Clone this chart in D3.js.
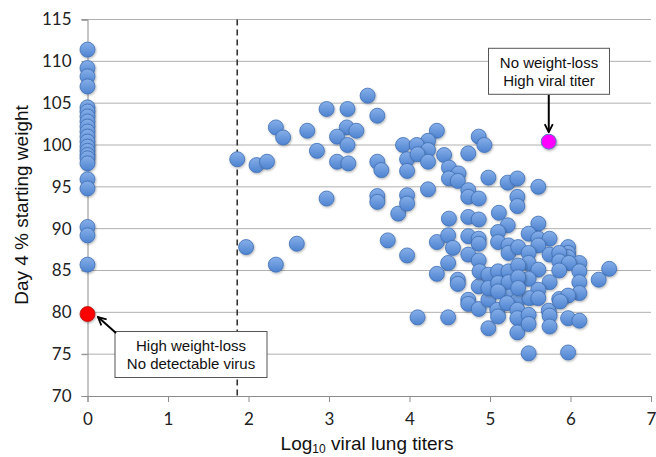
<!DOCTYPE html>
<html>
<head>
<meta charset="utf-8">
<script src="https://cdn.jsdelivr.net/npm/d3@7"></script>
<style>
  body { margin: 0; background: #fff; }
  .axis path, .axis line { stroke: #8c8c8c; }
  .axis text { font-family: Lato, "Open Sans", sans-serif; font-size: 17px; fill: #222; }
</style>
</head>
<body>
<div id="chart-area"></div>
<script>
// weights of mice with no detectable virus (titer 0)
var zeroTiterWeights = [111.4, 109.2, 108.2, 107.0, 104.5, 104.0, 103.4, 102.8, 102.2, 101.6,
  101.0, 100.4, 99.8, 99.3, 98.8, 98.4, 97.8, 95.9, 94.8, 90.2, 89.2, 85.7]

// log10 titers and matching weights for the infected mice
var titers = [1.86, 2.10, 2.23, 2.34, 2.43, 2.73, 2.85, 2.97, 3.23, 3.48, 3.60, 3.22, 3.34, 3.10, 3.23,
  3.10, 3.24, 3.60, 3.65, 2.97, 3.60, 3.60, 3.86, 1.97, 2.60, 3.73, 2.34, 3.97, 3.92, 3.97, 3.97, 3.97, 3.97,
  4.34, 4.23, 4.09, 4.23, 4.10, 4.23, 4.43, 4.49, 4.61, 4.49, 4.60, 4.86, 4.93, 4.73, 4.98, 4.23, 4.73,
  4.73, 4.86, 4.49, 4.73, 4.86, 4.34, 4.48, 4.73, 4.86, 4.86, 4.54, 4.73, 4.86, 4.48, 4.34, 4.60, 4.60,
  4.86, 4.87, 4.98, 4.73, 4.73, 4.86, 4.98, 4.10, 4.48, 4.98, 4.98,
  5.22, 5.34, 5.60, 5.34, 5.34, 5.11, 5.22, 5.60, 5.10, 5.10, 5.23, 5.23, 5.35, 5.48, 5.60, 5.74, 5.60,
  5.97, 5.97, 5.97, 5.48, 5.74, 5.86, 5.48, 5.86, 6.11, 5.98, 6.11, 6.48, 6.35, 5.60, 5.86, 5.10, 5.23,
  5.10, 5.23, 5.48, 5.74, 6.11, 5.60, 6.11, 5.86, 5.25, 5.35, 5.49, 5.10, 5.35, 5.35, 5.35, 5.60, 5.73,
  5.74, 5.74, 5.97, 5.09, 5.10, 5.21, 5.34, 5.34, 5.34, 5.48, 5.48, 5.48, 5.97, 6.11, 5.97, 5.87]
var weights = [98.3, 97.6, 98.0, 102.1, 100.9, 101.7, 99.3, 104.3, 104.3, 105.9, 103.5, 102.1, 101.7, 101.0, 100.0,
  98.0, 97.8, 98.0, 97.0, 93.6, 93.9, 93.2, 91.8, 87.8, 88.2, 88.6, 85.7, 86.8, 100.0, 98.3, 96.9, 94.0, 93.0,
  101.7, 100.5, 100.0, 99.4, 98.9, 98.0, 98.8, 97.3, 96.6, 96.0, 95.7, 101.0, 100.0, 99.0, 96.1, 94.7, 94.6,
  93.8, 93.6, 91.2, 91.4, 91.1, 88.4, 89.2, 89.1, 88.8, 88.2, 87.7, 86.9, 86.2, 85.9, 84.6, 83.9, 83.4,
  83.1, 84.9, 84.5, 81.5, 81.0, 80.4, 81.5, 79.4, 79.4, 78.1, 82.9,
  95.5, 96.0, 95.0, 93.8, 92.7, 91.9, 90.4, 90.6, 89.6, 88.4, 88.0, 87.1, 87.8, 89.4, 88.8, 88.8, 88.0,
  87.8, 87.1, 86.6, 87.1, 86.9, 87.1, 85.9, 86.1, 85.9, 85.9, 84.9, 85.2, 83.9, 85.1, 85.0, 84.9, 84.9,
  83.5, 83.6, 84.0, 83.6, 83.6, 82.7, 82.3, 81.6, 81.9, 81.5, 81.7, 82.5, 85.6, 84.2, 82.9, 81.7, 80.2,
  79.6, 78.3, 82.0, 80.3, 79.5, 81.1, 80.3, 79.3, 77.6, 79.7, 78.6, 75.1, 79.3, 79.0, 75.2, 81.3]

// highlighted mice
var redPoint = [0, 79.8]
var magentaPoint = [5.73, 100.4]
var detectionLimit = 1.86

var xTicks = [0, 1, 2, 3, 4, 5, 6, 7]
var yTicks = [70, 75, 80, 85, 90, 95, 100, 105, 110, 115]

var width = 656
var height = 457
var plot = {left: 87.5, right: 651, top: 19.5, bottom: 396}

var svg = d3.select("#chart-area").append("svg")
  .attr("width", width)
  .attr("height", height)

var x = d3.scaleLinear().domain([0, 7]).range([plot.left, plot.right])
var y = d3.scaleLinear().domain([70, 115]).range([plot.bottom, plot.top])

// marker gradient
var defs = svg.append("defs")
var grad = defs.append("linearGradient").attr("id", "blueDot")
  .attr("x1", 0).attr("y1", 0).attr("x2", 0).attr("y2", 1)
grad.append("stop").attr("offset", "0%").attr("stop-color", "#86afe9")
grad.append("stop").attr("offset", "100%").attr("stop-color", "#4e83d0")
var shadow = defs.append("filter").attr("id", "shadow")
  .attr("x", "-30%").attr("y", "-30%").attr("width", "160%").attr("height", "160%")
shadow.append("feDropShadow").attr("dx", 0.8).attr("dy", 1.2).attr("stdDeviation", 0.8)
  .attr("flood-color", "#000").attr("flood-opacity", 0.3)

// gridlines
svg.append("g").selectAll("line").data(yTicks.slice(1)).enter()
  .append("line")
  .attr("x1", plot.left - 6).attr("x2", plot.right)
  .attr("y1", d => y(d)).attr("y2", d => y(d))
  .attr("stroke", "#b0b0b0").attr("stroke-width", 1)

var leftAxis = d3.axisLeft(y).tickValues(yTicks).tickSize(6).tickPadding(10)
svg.append("g").attr("class", "axis")
  .attr("transform", `translate(${plot.left}, 0)`)
  .call(leftAxis)

var bottomAxis = d3.axisBottom(x).tickValues(xTicks).tickSize(6).tickPadding(11).tickFormat(d3.format("d"))
svg.append("g").attr("class", "axis")
  .attr("transform", `translate(0, ${plot.bottom})`)
  .call(bottomAxis)

// detection limit
svg.append("line")
  .attr("x1", x(detectionLimit)).attr("x2", x(detectionLimit))
  .attr("y1", plot.top).attr("y2", plot.bottom)
  .attr("stroke", "#333").attr("stroke-width", 1.6)
  .attr("stroke-dasharray", "6,4")

var r = 7.5
var dots = zeroTiterWeights.map(w => [0, w])
  .concat(titers.map((t, i) => [t, weights[i]]))

svg.append("g").selectAll("circle").data(dots).enter()
  .append("circle")
  .attr("cx", d => x(d[0]))
  .attr("cy", d => y(d[1]))
  .attr("r", r)
  .attr("fill", "url(#blueDot)")
  .attr("stroke", "#3d6fb5").attr("stroke-width", 0.8)
  .attr("filter", "url(#shadow)")

svg.append("circle")
  .attr("cx", x(redPoint[0])).attr("cy", y(redPoint[1])).attr("r", r)
  .attr("fill", "#ff0000").attr("stroke", "#b01010").attr("stroke-width", 0.8)
  .attr("filter", "url(#shadow)")
svg.append("circle")
  .attr("cx", x(magentaPoint[0])).attr("cy", y(magentaPoint[1])).attr("r", r)
  .attr("fill", "#ff00ff").attr("stroke", "#5a7fc0").attr("stroke-width", 1)
  .attr("filter", "url(#shadow)")

// arrow heads
defs.append("marker").attr("id", "arrow")
  .attr("viewBox", "0 0 10 10").attr("refX", 9).attr("refY", 5)
  .attr("markerWidth", 5).attr("markerHeight", 5).attr("orient", "auto")
  .append("path").attr("d", "M1,1 L9,5 L1,9").attr("fill", "none")
  .attr("stroke", "#000").attr("stroke-width", 1.8)

// annotation boxes
function note(cx, cy, w, h, lines) {
  var g = svg.append("g")
  g.append("rect")
    .attr("x", cx - w / 2).attr("y", cy - h / 2)
    .attr("width", w).attr("height", h)
    .attr("fill", "#fff").attr("stroke", "#555").attr("stroke-width", 1)
  lines.forEach((t, i) => {
    g.append("text")
      .attr("x", cx).attr("y", cy + (i - (lines.length - 1) / 2) * 18)
      .attr("dy", "0.35em")
      .attr("text-anchor", "middle")
      .attr("font-family", "Liberation Sans, Arial, sans-serif")
      .attr("font-size", "15px")
      .attr("fill", "#111")
      .text(t)
  })
}

note(549, 71.3, 121, 46, ["No weight-loss", "High viral titer"])
svg.append("line")
  .attr("x1", x(magentaPoint[0])).attr("y1", 95)
  .attr("x2", x(magentaPoint[0])).attr("y2", y(magentaPoint[1]) - r - 2)
  .attr("stroke", "#000").attr("stroke-width", 2)
  .attr("marker-end", "url(#arrow)")

note(191, 354.5, 152, 46, ["High weight-loss", "No detectable virus"])
svg.append("line")
  .attr("x1", 116).attr("y1", 333)
  .attr("x2", x(redPoint[0]) + r + 3).attr("y2", y(redPoint[1]) + 3)
  .attr("stroke", "#000").attr("stroke-width", 2)
  .attr("marker-end", "url(#arrow)")

// axis titles
var xTitle = svg.append("text")
  .attr("x", 367).attr("y", 450)
  .attr("text-anchor", "middle")
  .attr("font-family", "Liberation Sans, Arial, sans-serif")
  .attr("font-size", "19px")
  .attr("fill", "#111")
xTitle.append("tspan").text("Log")
xTitle.append("tspan").attr("font-size", "12px").attr("dy", 3).text("10")
xTitle.append("tspan").attr("dy", -3).text(" viral lung titers")

svg.append("text")
  .attr("transform", "translate(28, 205) rotate(-90)")
  .attr("text-anchor", "middle")
  .attr("font-family", "Liberation Sans, Arial, sans-serif")
  .attr("font-size", "19px")
  .attr("fill", "#111")
  .text("Day 4 % starting weight")
</script>
</body>
</html>
